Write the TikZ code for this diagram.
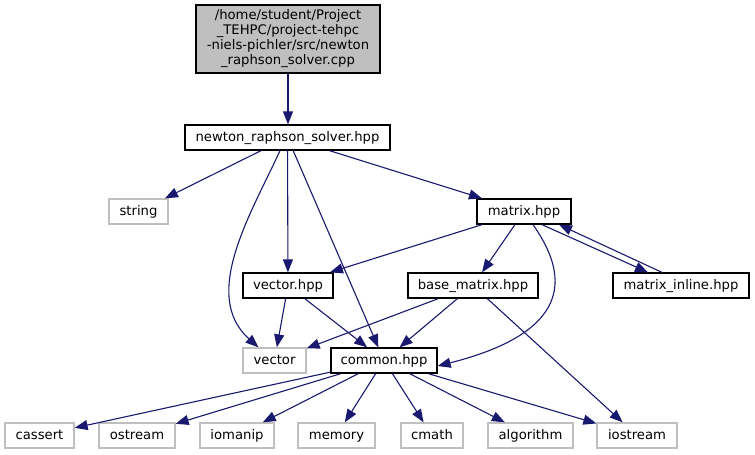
\documentclass[tikz,border=0pt]{standalone}
\usepackage{fontspec}
\setmainfont{DejaVu Sans}
\usetikzlibrary{arrows.meta}
\definecolor{edgecol}{HTML}{191970}
\definecolor{sysgray}{HTML}{BFBFBF}
\begin{document}
\begin{tikzpicture}[x=1pt,y=-1pt,
  box/.style={draw=black, line width=1.3pt, minimum height=25pt, inner sep=0pt,
    text height=9.5pt, text depth=2.5pt, font=\fontsize{13.2}{15}\selectfont},
  sysbox/.style={box, draw=sysgray},
  edge/.style={draw=edgecol, line width=1.1pt, -{Triangle[length=13pt,width=10pt]}}]
\useasboundingbox (0,0) rectangle (755,455);
\fill[white] (0,0) rectangle (755,455);

% nodes
\node[draw=black, fill=sysgray, line width=1.3pt, inner sep=0pt, align=center,
  minimum width=184pt, minimum height=68pt, font=\fontsize{13.2}{15}\selectfont]
  (root) at (288,39) {/home/student/Project\\\_TEHPC/project-tehpc\\-niels-pichler/src/newton\\\_raphson\_solver.cpp};
\node[box, minimum width=205pt] (nrs) at (287.5,137.5) {newton\_raphson\_solver.hpp};
\node[sysbox, minimum width=59pt] (string) at (138.5,211.5) {string};
\node[box, minimum width=94pt] (matrix) at (524,211.5) {matrix.hpp};
\node[box, minimum width=90pt] (vectorhpp) at (288,285.5) {vector.hpp};
\node[box, minimum width=130pt] (base) at (473,285.5) {base\_matrix.hpp};
\node[box, minimum width=136pt] (minline) at (681,285.5) {matrix\_inline.hpp};
\node[sysbox, minimum width=63pt] (vector) at (274.5,360.5) {vector};
\node[box, minimum width=106pt] (common) at (384,360.5) {common.hpp};
\node[sysbox, minimum width=69pt] (cassert) at (39.5,435.5) {cassert};
\node[sysbox, minimum width=76pt] (ostream) at (137,435.5) {ostream};
\node[sysbox, minimum width=74pt] (iomanip) at (237,435.5) {iomanip};
\node[sysbox, minimum width=77pt] (memory) at (336.5,435.5) {memory};
\node[sysbox, minimum width=62pt] (cmath) at (432,435.5) {cmath};
\node[sysbox, minimum width=85pt] (algorithm) at (530.5,435.5) {algorithm};
\node[sysbox, minimum width=80pt] (iostream) at (637,435.5) {iostream};

% edges
\draw[edge] (root.south) -- (root.south |- nrs.north);
\draw[edge] (nrs) -- (string);
\draw[edge] (nrs) -- (matrix);
\draw[edge] (nrs) -- (vectorhpp);
\draw[edge] (nrs) -- (common);
\draw[edge] ([xshift=-7.5pt]nrs.south) .. controls (252,212) and (200,295) .. ([xshift=-16pt]vector.north);
\draw[edge] (matrix) -- (vectorhpp);
\draw[edge] (matrix) -- (base);
\draw[edge] ([xshift=9pt]matrix.south) .. controls (565,270) and (580,330) .. ([yshift=-5.5pt]common.east);
\draw[edge] ([xshift=18pt]matrix.south) -- ([xshift=-33pt]minline.north);
\draw[edge] ([xshift=-19pt]minline.north) -- ([xshift=35pt]matrix.south);
\draw[edge] (vectorhpp) -- (vector);
\draw[edge] (vectorhpp) -- (common);
\draw[edge] (base) -- (vector);
\draw[edge] (base) -- (common);
\draw[edge] (base) -- (iostream);
\draw[edge] (common) -- (cassert);
\draw[edge] (common) -- (ostream);
\draw[edge] (common) -- (iomanip);
\draw[edge] (common) -- (memory);
\draw[edge] (common) -- (cmath);
\draw[edge] (common) -- (algorithm);
\draw[edge] (common) -- (iostream);
\end{tikzpicture}
\end{document}
